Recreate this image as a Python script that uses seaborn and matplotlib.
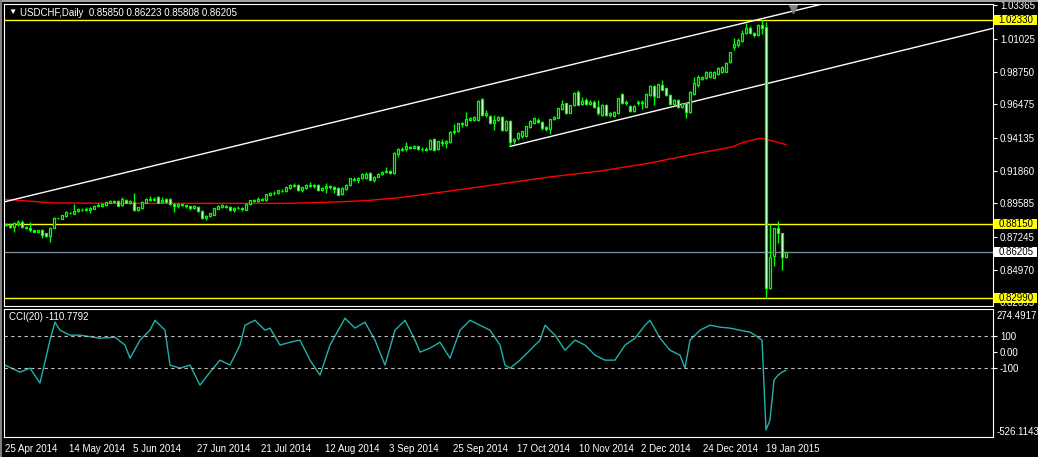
import numpy as np
import matplotlib
matplotlib.use("Agg")
import matplotlib.pyplot as plt
import seaborn as sns
from matplotlib.patches import Rectangle
from matplotlib.transforms import blended_transform_factory

# ------------------------- data ------------------------- #
opens = [
    0.8818, 0.8810, 0.8795, 0.8815, 0.8832, 0.8797, 0.8785, 0.8774, 0.8760, 0.8772,
    0.8750, 0.8730, 0.8790, 0.8855, 0.8852, 0.8868, 0.8895, 0.8888, 0.8905, 0.8915,
    0.8912, 0.8915, 0.8922, 0.8938, 0.8940, 0.8945, 0.8962, 0.8975, 0.8978, 0.8945,
    0.8985, 0.8965, 0.8967, 0.8912, 0.8925, 0.8965, 0.8988, 0.8982, 0.9001, 0.8970,
    0.8990, 0.8990, 0.8955, 0.8940, 0.8952, 0.8945, 0.8938, 0.8928, 0.8935, 0.8906,
    0.8855, 0.8870, 0.8880, 0.8922, 0.8935, 0.8942, 0.8935, 0.8910, 0.8925, 0.8928,
    0.8915, 0.8955, 0.8975, 0.8978, 0.8988, 0.8982, 0.9018, 0.9028, 0.9030, 0.9048,
    0.9042, 0.9068, 0.9080, 0.9088, 0.9050, 0.9065, 0.9085, 0.9078, 0.9088, 0.9052,
    0.9065, 0.9078, 0.9075, 0.9065, 0.9022, 0.9060, 0.9085, 0.9125, 0.9120, 0.9135,
    0.9138, 0.9170, 0.9125, 0.9145, 0.9160, 0.9178, 0.9185, 0.9168, 0.9305, 0.9330,
    0.9335, 0.9352, 0.9342, 0.9355, 0.9335, 0.9340, 0.9335, 0.9410, 0.9335, 0.9388,
    0.9380, 0.9385, 0.9455, 0.9460, 0.9512, 0.9505, 0.9540, 0.9540, 0.9540, 0.9685,
    0.9575, 0.9570, 0.9520, 0.9540, 0.9562, 0.9470, 0.9535, 0.9390, 0.9415, 0.9425,
    0.9425, 0.9490, 0.9520, 0.9538, 0.9525, 0.9488, 0.9475, 0.9545, 0.9555, 0.9618,
    0.9655, 0.9590, 0.9640, 0.9735, 0.9650, 0.9675, 0.9650, 0.9665, 0.9632, 0.9574,
    0.9644, 0.9574, 0.9565, 0.9586, 0.9720, 0.9662, 0.9639, 0.9602, 0.9655, 0.9657,
    0.9632, 0.9713, 0.9778, 0.9702, 0.9783, 0.9760, 0.9713, 0.9648, 0.9678, 0.9632,
    0.9655, 0.9593, 0.9718, 0.9783, 0.9825, 0.9829, 0.9841, 0.9834, 0.9857, 0.9871,
    0.9876, 0.9940, 1.0045, 1.0060, 1.0090, 1.0142, 1.0182, 1.0142, 1.0128, 1.0200,
    1.0184, 0.8370, 0.8590, 0.8785, 0.8750, 0.85850,
]
highs = [
    0.8825, 0.8822, 0.8830, 0.8840, 0.8840, 0.8800, 0.8832, 0.8776, 0.8776, 0.8780,
    0.8755, 0.8795, 0.8862, 0.8860, 0.8880, 0.8903, 0.8898, 0.8955, 0.8928, 0.8925,
    0.8935, 0.8935, 0.8945, 0.8960, 0.8962, 0.8972, 0.8985, 0.8985, 0.8985, 0.9006,
    0.8990, 0.8980, 0.9029, 0.8937, 0.8975, 0.8995, 0.9012, 0.9005, 0.9010, 0.9003,
    0.8995, 0.8997, 0.8960, 0.8962, 0.8958, 0.8950, 0.8942, 0.8945, 0.8940, 0.8910,
    0.8880, 0.8895, 0.8928, 0.8948, 0.8955, 0.8948, 0.8940, 0.8935, 0.8940, 0.8935,
    0.8960, 0.8985, 0.8990, 0.9006, 0.8995, 0.9025, 0.9040, 0.9045, 0.9055, 0.9058,
    0.9075, 0.9092, 0.9100, 0.9095, 0.9075, 0.9095, 0.9110, 0.9095, 0.9092, 0.9070,
    0.9102, 0.9085, 0.9082, 0.9070, 0.9072, 0.9095, 0.9138, 0.9140, 0.9145, 0.9170,
    0.9175, 0.9178, 0.9150, 0.9170, 0.9185, 0.9210, 0.9190, 0.9318, 0.9345, 0.9350,
    0.9385, 0.9360, 0.9365, 0.9360, 0.9350, 0.9352, 0.9405, 0.9415, 0.9395, 0.9410,
    0.9400, 0.9462, 0.9512, 0.9520, 0.9528, 0.9597, 0.9560, 0.9570, 0.9680, 0.9690,
    0.9610, 0.9575, 0.9575, 0.9570, 0.9568, 0.9540, 0.9540, 0.9415, 0.9455, 0.9465,
    0.9500, 0.9540, 0.9560, 0.9550, 0.9530, 0.9495, 0.9548, 0.9570, 0.9625, 0.9680,
    0.9660, 0.9645, 0.9735, 0.9745, 0.9700, 0.9690, 0.9675, 0.9680, 0.9679, 0.9650,
    0.9650, 0.9592, 0.9600, 0.9695, 0.9725, 0.9678, 0.9645, 0.9645, 0.9678, 0.9678,
    0.9725, 0.9785, 0.9785, 0.9792, 0.9818, 0.9765, 0.9718, 0.9685, 0.9685, 0.9660,
    0.9660, 0.9738, 0.9841, 0.9852, 0.9848, 0.9880, 0.9878, 0.9880, 0.9910, 0.9912,
    0.9940, 1.0015, 1.0112, 1.0110, 1.0165, 1.0212, 1.0190, 1.0150, 1.0210, 1.0235,
    1.0224, 0.8813, 0.8790, 0.8836, 0.8755, 0.86223,
]
lows = [
    0.8805, 0.8790, 0.8762, 0.8805, 0.8790, 0.8780, 0.8762, 0.8758, 0.8755, 0.8716,
    0.8722, 0.8693, 0.8788, 0.8850, 0.8848, 0.8862, 0.8885, 0.8885, 0.8900, 0.8905,
    0.8905, 0.8895, 0.8918, 0.8935, 0.8935, 0.8940, 0.8960, 0.8965, 0.8940, 0.8940,
    0.8960, 0.8955, 0.8905, 0.8905, 0.8920, 0.8960, 0.8975, 0.8975, 0.8962, 0.8965,
    0.8965, 0.8950, 0.8901, 0.8930, 0.8938, 0.8930, 0.8915, 0.8920, 0.8900, 0.8850,
    0.8843, 0.8865, 0.8875, 0.8918, 0.8930, 0.8928, 0.8905, 0.8900, 0.8920, 0.8905,
    0.8910, 0.8950, 0.8970, 0.8972, 0.8975, 0.8978, 0.9012, 0.9020, 0.9025, 0.9038,
    0.9038, 0.9062, 0.9075, 0.9048, 0.9040, 0.9060, 0.9070, 0.9068, 0.9045, 0.9045,
    0.9030, 0.9062, 0.9030, 0.9015, 0.9018, 0.9055, 0.9080, 0.9115, 0.9100, 0.9130,
    0.9130, 0.9120, 0.9110, 0.9140, 0.9155, 0.9170, 0.9160, 0.9165, 0.9285, 0.9320,
    0.9325, 0.9335, 0.9335, 0.9328, 0.9325, 0.9325, 0.9330, 0.9325, 0.9330, 0.9355,
    0.9342, 0.9380, 0.9445, 0.9455, 0.9492, 0.9500, 0.9535, 0.9535, 0.9535, 0.9570,
    0.9562, 0.9510, 0.9470, 0.9535, 0.9465, 0.9460, 0.9355, 0.9375, 0.9400, 0.9415,
    0.9420, 0.9480, 0.9510, 0.9515, 0.9470, 0.9460, 0.9445, 0.9540, 0.9550, 0.9610,
    0.9580, 0.9585, 0.9635, 0.9640, 0.9645, 0.9645, 0.9640, 0.9625, 0.9575, 0.9568,
    0.9568, 0.9560, 0.9558, 0.9580, 0.9650, 0.9640, 0.9595, 0.9595, 0.9645, 0.9616,
    0.9628, 0.9708, 0.9644, 0.9698, 0.9745, 0.9708, 0.9642, 0.9642, 0.9625, 0.9625,
    0.9551, 0.9588, 0.9712, 0.9771, 0.9818, 0.9825, 0.9835, 0.9830, 0.9850, 0.9865,
    0.9870, 0.9935, 1.0026, 1.0050, 1.0080, 1.0135, 1.0135, 1.0118, 1.0120, 1.0135,
    0.8299, 0.8360, 0.8526, 0.8681, 0.8495, 0.85808,
]
closes = [
    0.8810, 0.8795, 0.8825, 0.8832, 0.8797, 0.8785, 0.8774, 0.8760, 0.8772, 0.8738,
    0.8730, 0.8790, 0.8860, 0.8857, 0.8876, 0.8898, 0.8892, 0.8908, 0.8922, 0.8912,
    0.8920, 0.8924, 0.8940, 0.8950, 0.8958, 0.8968, 0.8978, 0.8972, 0.8942, 0.8987,
    0.8965, 0.8975, 0.8910, 0.8932, 0.8971, 0.8990, 0.8980, 0.8992, 0.8965, 0.8985,
    0.8972, 0.8953, 0.8938, 0.8955, 0.8945, 0.8940, 0.8925, 0.8938, 0.8905, 0.8855,
    0.8872, 0.8889, 0.8925, 0.8940, 0.8945, 0.8932, 0.8910, 0.8925, 0.8930, 0.8918,
    0.8955, 0.8980, 0.8985, 0.8988, 0.8982, 0.9022, 0.9030, 0.9032, 0.9050, 0.9045,
    0.9070, 0.9085, 0.9088, 0.9052, 0.9070, 0.9090, 0.9078, 0.9088, 0.9050, 0.9065,
    0.9080, 0.9070, 0.9058, 0.9020, 0.9068, 0.9090, 0.9133, 0.9130, 0.9135, 0.9165,
    0.9165, 0.9125, 0.9145, 0.9160, 0.9180, 0.9182, 0.9168, 0.9312, 0.9335, 0.9340,
    0.9355, 0.9345, 0.9360, 0.9335, 0.9340, 0.9332, 0.9400, 0.9330, 0.9390, 0.9380,
    0.9390, 0.9458, 0.9462, 0.9515, 0.9518, 0.9545, 0.9550, 0.9562, 0.9674, 0.9574,
    0.9585, 0.9518, 0.9538, 0.9562, 0.9470, 0.9535, 0.9388, 0.9410, 0.9450, 0.9460,
    0.9495, 0.9535, 0.9550, 0.9525, 0.9485, 0.9475, 0.9543, 0.9560, 0.9620, 0.9650,
    0.9585, 0.9640, 0.9730, 0.9645, 0.9672, 0.9650, 0.9665, 0.9632, 0.9585, 0.9644,
    0.9574, 0.9586, 0.9593, 0.9690, 0.9655, 0.9655, 0.9602, 0.9639, 0.9662, 0.9664,
    0.9720, 0.9778, 0.9709, 0.9787, 0.9748, 0.9713, 0.9648, 0.9678, 0.9632, 0.9655,
    0.9593, 0.9732, 0.9794, 0.9841, 0.9841, 0.9876, 0.9871, 0.9876, 0.9899, 0.9906,
    0.9934, 1.0010, 1.0068, 1.0096, 1.0142, 1.0177, 1.0142, 1.0127, 1.0200, 1.0182,
    0.8368, 0.8584, 0.8785, 0.8750, 0.8584, 0.86205,
]

# moving average (red), read at a few bars
ma_bars = [-0.5, 5, 12, 30, 69, 80, 90, 98.5, 111, 123.5, 136, 148.5, 161, 173.5,
           181.75, 184, 188.5, 190, 195]
ma_vals = [0.8987, 0.8976, 0.8962, 0.8959, 0.8959, 0.8966, 0.8978, 0.8999, 0.9045,
           0.9094, 0.9143, 0.9184, 0.9240, 0.9310, 0.9353, 0.9381, 0.9412, 0.9405, 0.9368]

# CCI(20), read along the sub-window
cci_bars = [-0.25, 3.5, 6, 8.5, 11, 12.25, 13.5, 16, 18.5, 23.5, 27.25, 29.75, 31, 33.5,
            36, 37.25, 39.75, 41, 43.5, 46, 48.5, 51, 53.5, 56, 58.5, 59.75, 62.25, 64.75,
            66, 68.5, 71, 73.5, 76, 78.5, 81, 84.75, 87.25, 89.75, 92.25, 94.75, 97.25,
            99.75, 102.25, 103.5, 106, 108.5, 111, 113.5, 116, 118.5, 121, 123.5, 124.75,
            126, 128.5, 131, 133.5, 134.75, 137.25, 139.75, 142.25, 144.75, 147.25, 149.75,
            152.25, 154.75, 157.25, 159.75, 161, 163.5, 166, 168.5, 169.75, 171, 173.5,
            176, 178.5, 181, 183.5, 186, 187.25, 189, 190, 191, 192, 193, 194, 195]
cci_vals = [-79, -123, -98, -191, 77, 189, 139, 108, 108, 89, 95, 46, -36, 77,
            139, 201, 139, -79, -98, -79, -204, -123, -48, -79, 46, 170, 201, 139,
            152, 46, 64, 77, -48, -142, 46, 214, 152, 189, 77, -79, 139,
            201, 77, 2, 27, 64, -36, 139, 201, 170, 139, 46, -79,
            -98, -48, 14, 77, 170, 108, 14, 77, 46, -17, -48,
            -48, 46, 89, 170, 201, 89, 14, -17, -98, 77, 139,
            170, 158, 152, 139, 127, 108, 77, -484, -422, -173, -142, -123, -110.78]

date_labels = ["25 Apr 2014", "14 May 2014", "5 Jun 2014", "27 Jun 2014", "21 Jul 2014",
               "12 Aug 2014", "3 Sep 2014", "25 Sep 2014", "17 Oct 2014", "10 Nov 2014",
               "2 Dec 2014", "24 Dec 2014", "19 Jan 2015"]
date_bars = [-0.25, 15.75, 31.8, 47.8, 63.8, 79.8, 95.8, 111.8, 127.75, 143.25, 158.8,
             174.3, 189.9]

price_ticks = [1.03365, 1.01025, 0.98750, 0.96475, 0.94135, 0.91860, 0.89585,
               0.87245, 0.84970, 0.82695]
level_prices = [1.02330, 0.88150, 0.82990]
last_price = 0.86205

upper_line_bars = [-0.5, 205]
upper_line_vals = [0.8969, 1.0352]
lower_line_bars = [126, 246.75]
lower_line_vals = [0.9355, 1.0177]

cci_levels = [100, -100]
cci_top, cci_bottom = 274.4917, -526.1143

# ------------------------- style ------------------------- #
sns.set_theme(style="dark", rc={
    "figure.facecolor": "black", "axes.facecolor": "black",
    "axes.edgecolor": "white", "axes.grid": False,
    "xtick.color": "white", "ytick.color": "white", "text.color": "white",
})
plt.rcParams["font.family"] = ["Liberation Sans", "DejaVu Sans"]

W, H = 1038, 457
fig = plt.figure(figsize=(W / 100, H / 100), dpi=100, facecolor="black")

def px_axes(left, top, right, bottom):
    return fig.add_axes([left / W, 1 - bottom / H, (right - left) / W, (bottom - top) / H])

ax = px_axes(4, 4, 993, 306)
ax2 = px_axes(4, 308.5, 993, 436.7)

XMIN, XMAX = -0.5, 246.75
LIME = "#00ff00"

# ------------------------- price panel ------------------------- #
o, h, l, c = map(np.array, (opens, highs, lows, closes))
x = np.arange(len(c))
ax.vlines(x, l, h, color=LIME, lw=1.0, zorder=3)
bull = c >= o
ax.bar(x, np.abs(c - o), bottom=np.minimum(o, c), width=0.6,
       color=np.where(bull, "black", "white"), edgecolor=LIME, linewidth=0.9, zorder=4)

sns.lineplot(x=ma_bars, y=ma_vals, ax=ax, color="red", lw=1.0, estimator=None, zorder=2)
sns.lineplot(x=upper_line_bars, y=upper_line_vals, ax=ax, color="white", lw=1.0,
             estimator=None, zorder=2)
sns.lineplot(x=lower_line_bars, y=lower_line_vals, ax=ax, color="white", lw=1.0,
             estimator=None, zorder=2)

for p in level_prices:
    ax.axhline(p, color="yellow", lw=1.0, zorder=1)
ax.axhline(last_price, color="#778899", lw=1.0, zorder=1)

ax.set_xlim(XMIN, XMAX)
ax.set_ylim(0.8245, 1.0346)
ax.set_xticks([])
ax.yaxis.tick_right()
ax.set_yticks(price_ticks)
ax.set_yticklabels([f"{v:.5f}" for v in price_ticks])
ax.tick_params(axis="y", length=3, width=0.8, pad=2, labelsize=7, colors="white")
ax.set_xlabel("")
ax.set_ylabel("")
for s in ax.spines.values():
    s.set_color("white")
    s.set_linewidth(0.8)

tr = blended_transform_factory(ax.transAxes, ax.transData)
for p, bg in [(1.02330, "yellow"), (0.88150, "yellow"), (0.82990, "yellow"),
              (last_price, "white")]:
    ax.add_patch(Rectangle((1.0012, p - 0.0035), 0.0435, 0.0070, transform=tr,
                           facecolor=bg, edgecolor="none", clip_on=False, zorder=9))
    ax.text(1.0052, p, f"{p:.5f}", transform=tr, color="black", fontsize=7,
            va="center", ha="left", clip_on=False, zorder=10)

# shift marker at the top
ax.plot([196.75], [0.985], marker="v", ms=6, color="#808080",
        transform=blended_transform_factory(ax.transData, ax.transAxes), clip_on=False)

# ------------------------- CCI panel ------------------------- #
sns.lineplot(x=cci_bars, y=cci_vals, ax=ax2, color="#20b2aa", lw=1.0, estimator=None)
for lv in cci_levels:
    ax2.axhline(lv, color="#c0c0c0", lw=0.8, ls=(0, (3, 3)))
ax2.set_xlim(XMIN, XMAX)
ax2.set_ylim(cci_bottom, cci_top)
ax2.yaxis.tick_right()
ax2.set_yticks([100, 0, -100])
ax2.set_yticklabels(["100", "0.00", "-100"])
ax2.tick_params(axis="y", length=3, width=0.8, pad=2, labelsize=7, colors="white")
ax2.set_xticks(date_bars)
ax2.set_xticklabels(date_labels, ha="left")
ax2.tick_params(axis="x", length=4, width=0.8, pad=1.5, labelsize=7, colors="white")
ax2.set_xlabel("")
ax2.set_ylabel("")
for s in ax2.spines.values():
    s.set_color("white")
    s.set_linewidth(0.8)
ax2.text(1.0040, 0.94, f"{cci_top:.4f}", transform=ax2.transAxes, fontsize=7,
         va="center", ha="left")
ax2.text(1.0040, 0.04, f"{cci_bottom:.4f}", transform=ax2.transAxes, fontsize=7,
         va="center", ha="left")

# ------------------------- header texts ------------------------- #
fig.text(8 / W, 1 - 12.5 / H, "\u25bc", fontsize=6, va="center", ha="left")
fig.text(20 / W, 1 - 12.5 / H, "USDCHF,Daily  0.85850 0.86223 0.85808 0.86205",
         fontsize=7, va="center", ha="left")
fig.text(9 / W, 1 - 316.5 / H, "CCI(20) -110.7792", fontsize=7, va="center", ha="left")

# window frame bits
fig.patches.append(Rectangle((0, 1 - 2 / H), 1, 2 / H, transform=fig.transFigure,
                             facecolor="#a0a0a0", edgecolor="none"))
fig.patches.append(Rectangle((0, 0), 2 / W, 1, transform=fig.transFigure,
                             facecolor="#808080", edgecolor="none"))

fig.savefig("out.png", dpi=100, facecolor="black")
